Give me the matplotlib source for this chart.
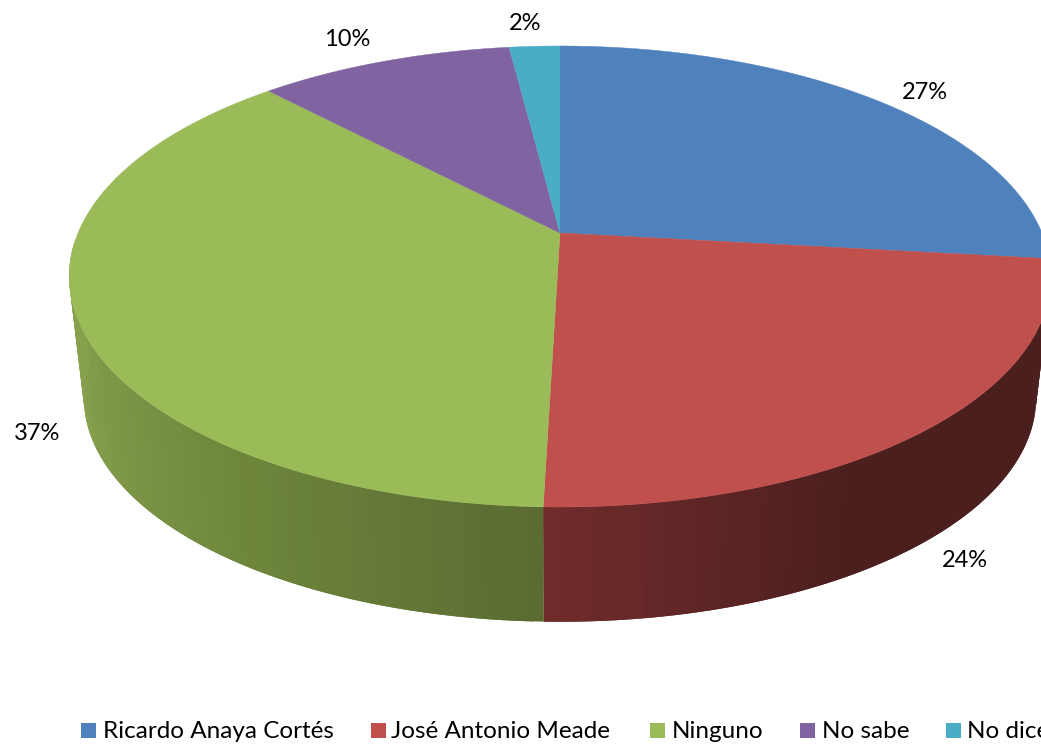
import numpy as np
import matplotlib
matplotlib.use("Agg")
import matplotlib.pyplot as plt
from matplotlib.patches import Rectangle

plt.rcParams["font.family"] = ["Lato", "DejaVu Sans"]

names = ["Ricardo Anaya Cortés", "José Antonio Meade", "Ninguno", "No sabe", "No dice"]
values = [26.8, 23.65, 37.49, 10.06, 2.0]
pct_labels = ["27%", "24%", "37%", "10%", "2%"]
colors = ["#4f81bd", "#c0504d", "#9bbb59", "#8064a2", "#4bacc6"]

# pixel layout of the label and legend text
label_pos = [(925, 92.5), (965, 560.5), (37, 433), (347, 39.5), (525, 23.5)]
legend_x = [81, 371, 650, 800, 946]
legend_text_x = [103, 391, 672, 822, 967]

# perspective of the tilted disc
CX, CY = 560, 233
A, B, K = 482, 222.3, 0.1887
BOT_CY, BOT_S = 356, 0.97


def project(theta, cy=CY, s=1.0):
    u = np.sin(np.radians(theta))
    v = np.cos(np.radians(theta))
    w = 1 + K * v
    return CX + s * A * u / w, cy - s * B * v / w


def side_color(theta, stops_t, stops_c):
    rgb = [matplotlib.colors.to_rgb(c) for c in stops_c]
    return tuple(np.interp(theta, stops_t, [c[i] for c in rgb]) for i in range(3))


fig = plt.figure(figsize=(10.41, 7.47), dpi=100)
ax = fig.add_axes([0, 0, 1, 1])
ax.set_xlim(0, 1041)
ax.set_ylim(747, 0)
ax.axis("off")

edges = np.concatenate([[0], np.cumsum(values)]) * 3.6

# side wall, only the two front slices show
# each strip runs over the next one so no seams appear
side_stops = {
    1: ([96, 150, 181], ["#4c1f1f", "#4c1f1f", "#702b2b"]),
    2: ([edges[2], 215, 240, 252], ["#5a6c32", "#6f873c", "#7f994a", "#86a04c"]),
}
STEP = 1.0
for i, (st, sc) in side_stops.items():
    end = min(edges[i + 1], 268)
    for a in np.arange(edges[i], end, STEP):
        b = min(a + 2 * STEP, end)
        x0, y0 = project(np.array([a, b]))
        x1, y1 = project(np.array([b, a]), BOT_CY, BOT_S)
        c = side_color(a + STEP / 2, st, sc)
        ax.fill(np.r_[x0, x1], np.r_[y0, y1], color=c, lw=0)

# top face
for i, col in enumerate(colors):
    t = np.linspace(edges[i], edges[i + 1], 200)
    x, y = project(t)
    ax.fill(np.r_[CX, x], np.r_[CY, y], color=col, lw=0.3)

for (x, y), s in zip(label_pos, pct_labels):
    ax.text(x, y, s, fontsize=17, ha="center", va="center", color="black")

for i, name in enumerate(names):
    ax.add_patch(Rectangle((legend_x[i], 723), 15, 15, color=colors[i], lw=0))
    ax.text(legend_text_x[i], 732, name, fontsize=17.5, ha="left", va="center", color="black")

fig.savefig("out.png", dpi=100)
